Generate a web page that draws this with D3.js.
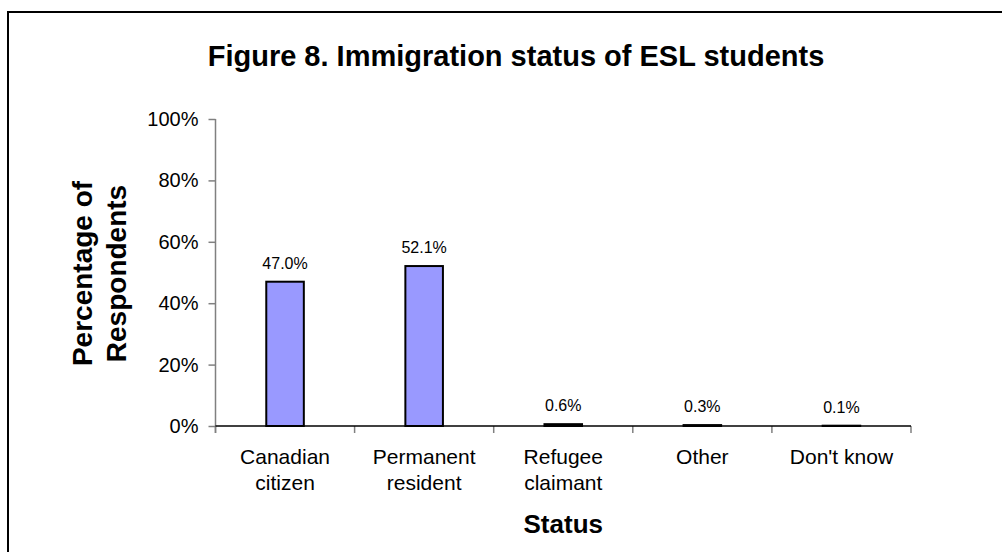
<!DOCTYPE html>
<html>
<head>
<meta charset="utf-8">
<script src="https://cdn.jsdelivr.net/npm/d3@7"></script>
<style>
  html, body { margin: 0; padding: 0; background: #fff; }
  svg { display: block; font-family: Arial, "Liberation Sans", sans-serif; }
</style>
</head>
<body>
<div id="chart"></div>
<script>
// Immigration status of ESL students (percent of respondents)
const categories = [["Canadian", "citizen"], ["Permanent", "resident"], ["Refugee", "claimant"], ["Other"], ["Don't know"]];
const values = [47.0, 52.1, 0.6, 0.3, 0.1];
const yTicks = [0, 20, 40, 60, 80, 100];

const W = 1002, H = 552;
const plot = { left: 215.5, right: 911, top: 119, bottom: 426 };

const svg = d3.select("#chart").append("svg")
  .attr("width", W).attr("height", H);

// outer frame (runs off the right and bottom edges)
svg.append("rect")
  .attr("x", 8).attr("y", 12)
  .attr("width", 1020).attr("height", 570)
  .attr("fill", "#fff").attr("stroke", "#000").attr("stroke-width", 2);

const x = d3.scaleBand()
  .domain(categories.map((c, i) => i))
  .range([plot.left, plot.right])
  .paddingInner(0).paddingOuter(0);

const y = d3.scaleLinear().domain([0, 100]).range([plot.bottom, plot.top]);

// title
svg.append("text")
  .attr("x", 516).attr("y", 66)
  .attr("text-anchor", "middle")
  .attr("font-size", 29).attr("font-weight", "bold")
  .text("Figure 8. Immigration status of ESL students");

// y axis
const yAxis = svg.append("g")
  .attr("transform", `translate(${plot.left},0)`)
  .call(d3.axisLeft(y).tickValues(yTicks).tickSize(7).tickPadding(10).tickFormat(d => d + "%"));
yAxis.select(".domain").attr("stroke", "#808080").attr("stroke-width", 1.5).attr("d", `M0,${plot.top}V${plot.bottom + 7}`);
yAxis.selectAll(".tick line").attr("stroke", "#808080").attr("stroke-width", 1.5);
yAxis.selectAll(".tick text").attr("font-size", 20).attr("fill", "#000").attr("font-family", "Arial, 'Liberation Sans', sans-serif");

// x axis: ticks at category boundaries
const boundaries = categories.map((c, i) => x(i)).concat([plot.right]);
const xg = svg.append("g");
xg.selectAll("line.tick")
  .data(boundaries)
  .join("line")
  .attr("x1", d => d).attr("x2", d => d)
  .attr("y1", plot.bottom).attr("y2", plot.bottom + 7)
  .attr("stroke", "#808080").attr("stroke-width", 1.5);

// bars
const barW = x.bandwidth() * 0.27;
svg.append("g").selectAll("rect")
  .data(values)
  .join("rect")
  .attr("x", (d, i) => x(i) + x.bandwidth() / 2 - barW / 2)
  .attr("y", d => y(d))
  .attr("width", barW)
  .attr("height", d => y(0) - y(d))
  .attr("fill", "#9999FF")
  .attr("stroke", "#000").attr("stroke-width", 2);

xg.append("line")
  .attr("x1", plot.left).attr("x2", plot.right)
  .attr("y1", plot.bottom).attr("y2", plot.bottom)
  .attr("stroke", "#000").attr("stroke-width", 1.5);

// value labels
svg.append("g").selectAll("text")
  .data(values)
  .join("text")
  .attr("x", (d, i) => x(i) + x.bandwidth() / 2)
  .attr("y", d => y(d) - 13)
  .attr("text-anchor", "middle")
  .attr("font-size", 16)
  .text(d => d.toFixed(1) + "%");

// category labels
const catG = svg.append("g").selectAll("text")
  .data(categories)
  .join("text")
  .attr("x", (d, i) => x(i) + x.bandwidth() / 2)
  .attr("y", 464)
  .attr("text-anchor", "middle")
  .attr("font-size", 21);
catG.selectAll("tspan")
  .data((d, i) => d.map(line => ({ line, i })))
  .join("tspan")
  .attr("x", d => x(d.i) + x.bandwidth() / 2)
  .attr("dy", (d, j) => j === 0 ? 0 : 26)
  .text(d => d.line);

// axis titles
svg.append("text")
  .attr("x", (plot.left + plot.right) / 2).attr("y", 533)
  .attr("text-anchor", "middle")
  .attr("font-size", 26).attr("font-weight", "bold")
  .text("Status");

const yTitle = svg.append("text")
  .attr("transform", `translate(0,${(plot.top + plot.bottom) / 2 + 1}) rotate(-90)`)
  .attr("text-anchor", "middle")
  .attr("font-size", 28).attr("font-weight", "bold");
yTitle.append("tspan").attr("x", 0).attr("y", 92).text("Percentage of");
yTitle.append("tspan").attr("x", 0).attr("y", 126).text("Respondents");
</script>
</body>
</html>
